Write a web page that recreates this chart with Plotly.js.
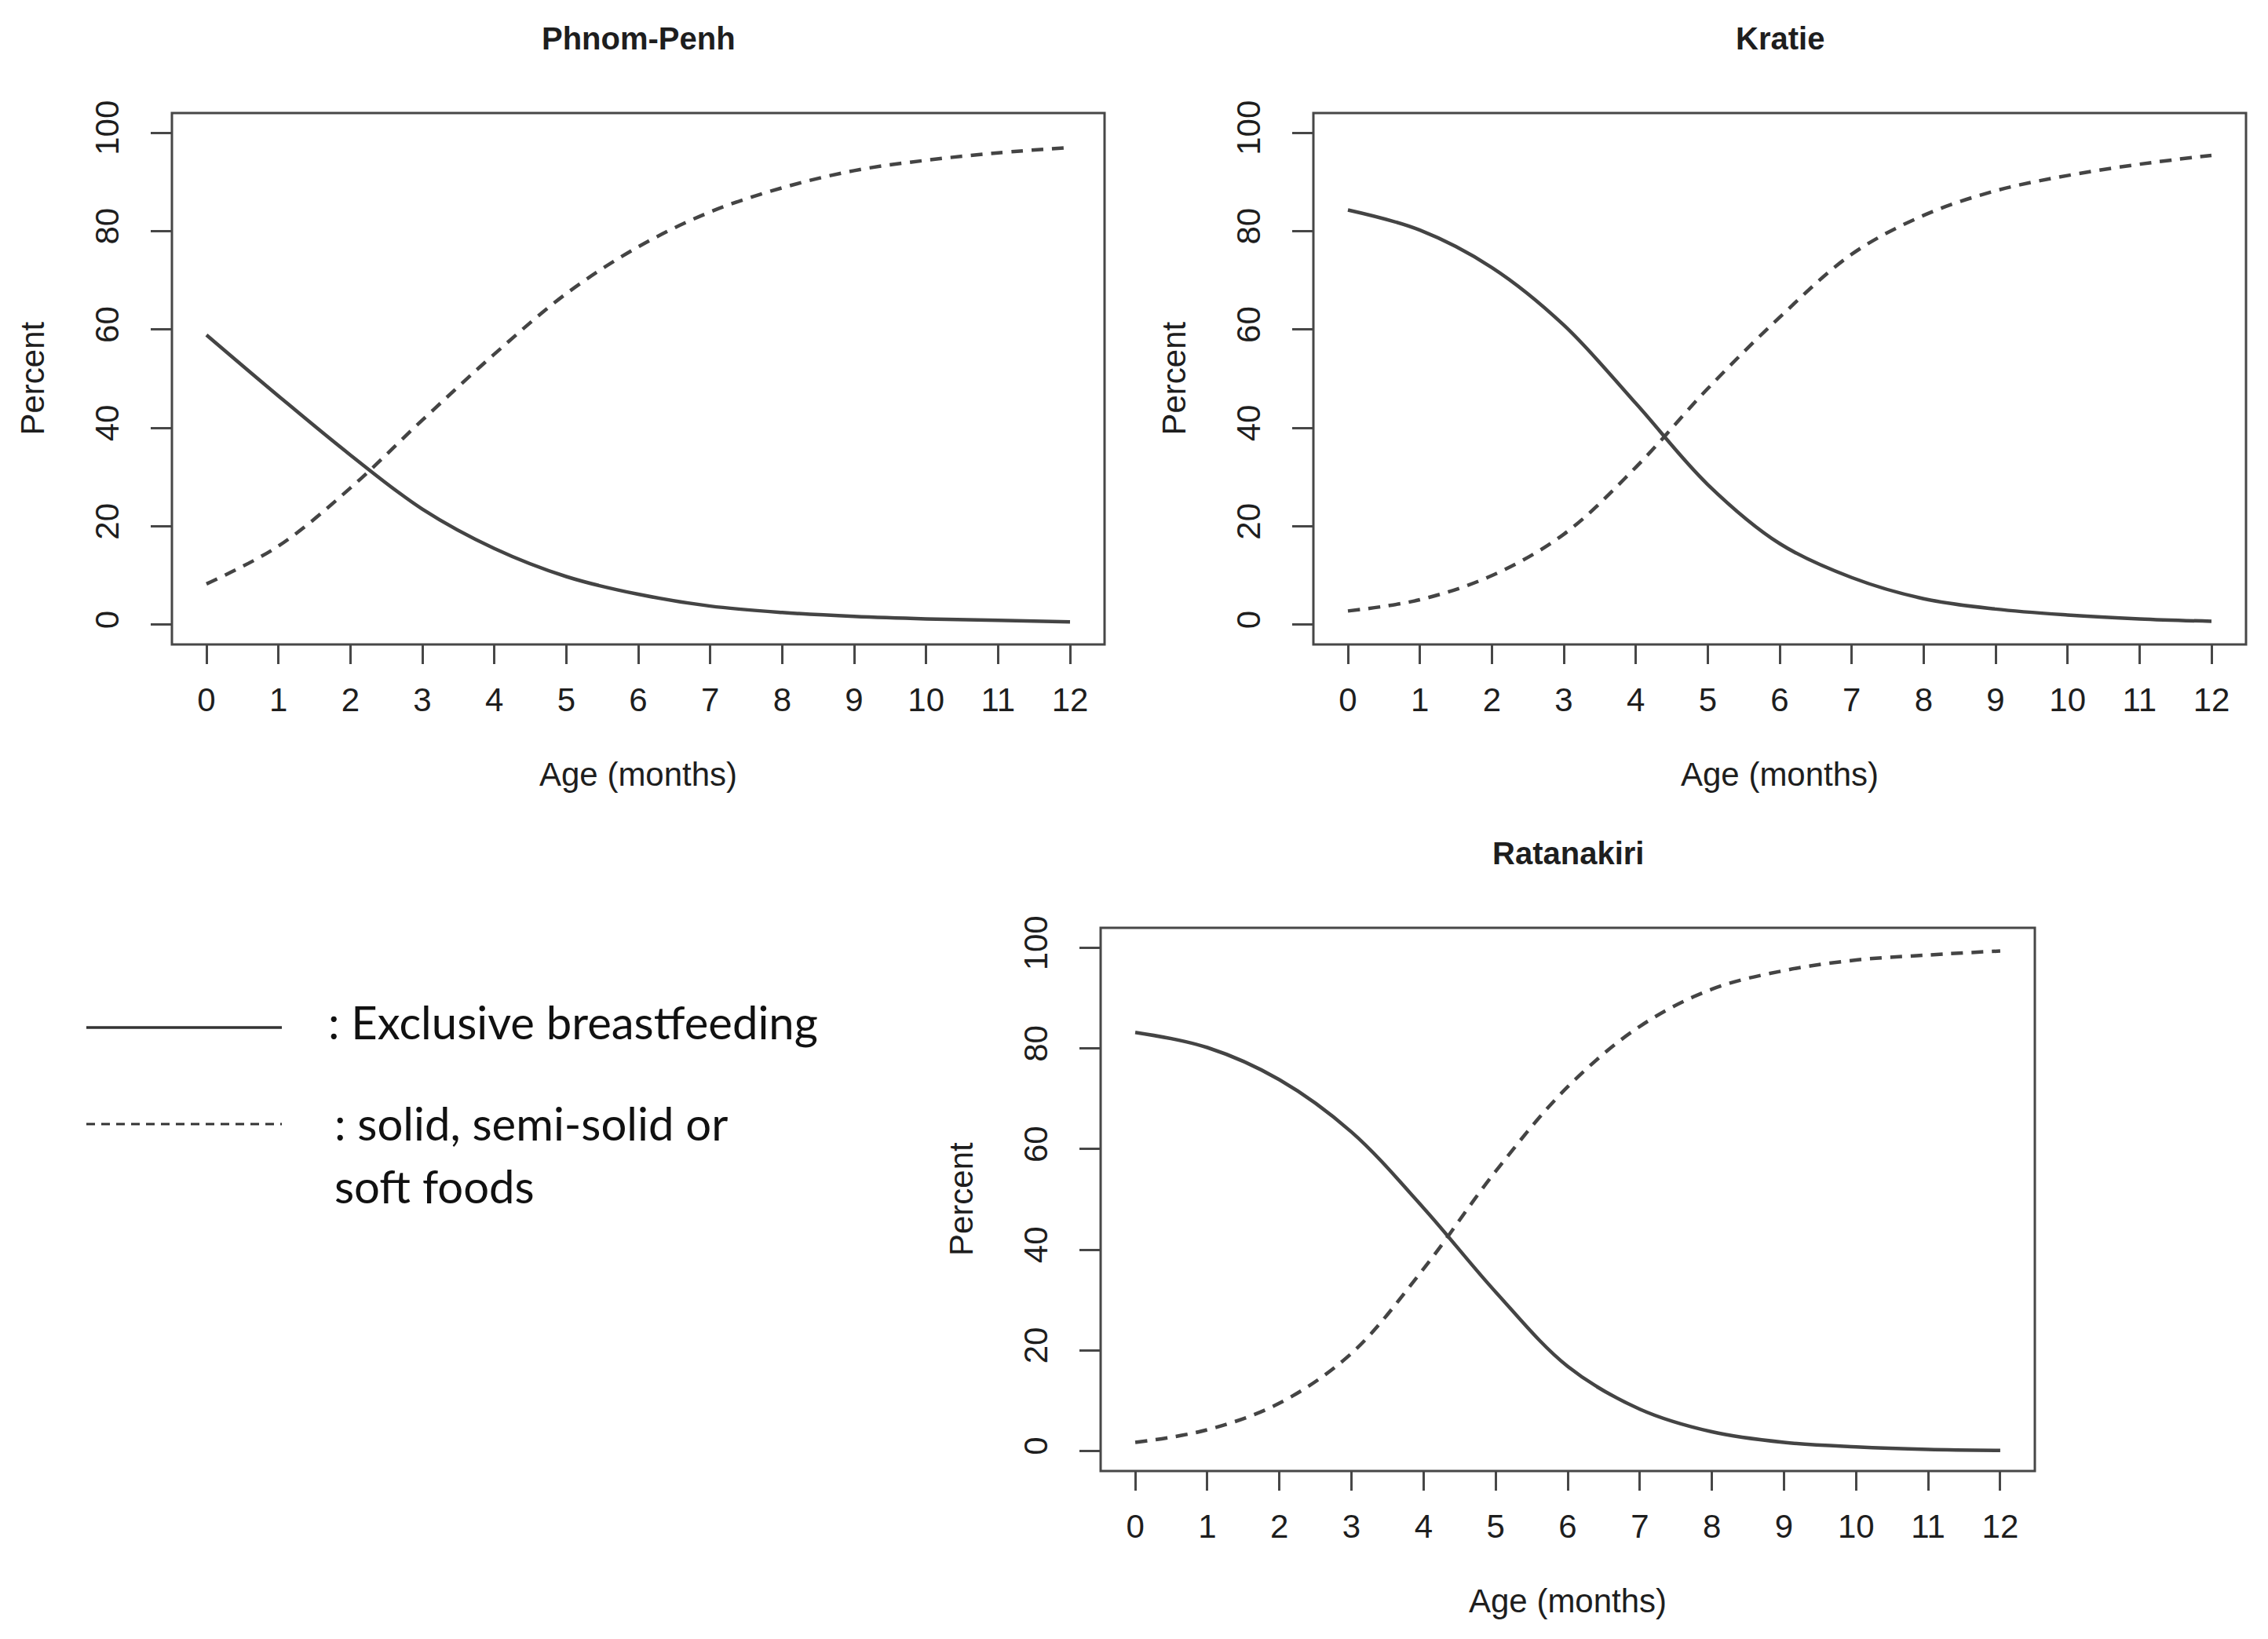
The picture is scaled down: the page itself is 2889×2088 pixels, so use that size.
<!DOCTYPE html>
<html>
<head>
<meta charset="utf-8">
<script src="https://cdn.plot.ly/plotly-3.0.1.min.js"></script>
<style>
  html, body { margin: 0; padding: 0; background: #ffffff; }
  #plot { width: 2889px; height: 2088px; }
</style>
</head>
<body>
<div id="plot"></div>
<script>
// values, one point per month
const months = [0, 1, 2, 3, 4, 5, 6, 7, 8, 9, 10, 11, 12];
const percentTicks = [0, 20, 40, 60, 80, 100];

const phnomPenhExclusive = [58.9, 46.5, 34.5, 23.5, 15.5, 9.8, 6.2, 3.8, 2.5, 1.7, 1.2, 0.9, 0.6];
const phnomPenhSolid     = [8.3, 16.0, 27.8, 41.6, 55.0, 67.3, 76.8, 83.9, 88.8, 92.3, 94.4, 95.9, 97.0];

const kratieExclusive = [84.3, 80.2, 72.6, 60.9, 45.0, 28.5, 16.5, 9.6, 5.3, 3.2, 2.0, 1.2, 0.7];
const kratieSolid     = [2.8, 5.1, 10.0, 18.4, 32.0, 48.0, 62.5, 75.3, 83.2, 88.2, 91.3, 93.6, 95.4];

const ratanakiriExclusive = [83.2, 80.2, 73.8, 63.4, 48.3, 31.6, 16.8, 8.3, 3.8, 1.7, 0.8, 0.3, 0.1];
const ratanakiriSolid     = [1.7, 4.2, 9.5, 19.4, 36.2, 55.6, 72.4, 84.4, 91.8, 95.5, 97.6, 98.6, 99.4];

const panelTitles = ["Phnom-Penh", "Kratie", "Ratanakiri"];
const legendLabels = [": Exclusive breastfeeding", ": solid, semi-solid or", "soft foods"];

const W = 2889, H = 2088;
const px = (v) => v / W;
const py = (v) => 1 - v / H;

const rFont = '"Liberation Sans", Arial, Helvetica, sans-serif';
const legFont = 'Lato, "Open Sans", sans-serif';
const ink = "#1e1e1e";
const lineCol = "#444444";
const boxCol = "#474747";

// plot boxes in pixels: left, right, top, bottom
const boxes = [
  [219, 1407, 144, 821],
  [1673, 2861, 144, 821],
  [1402, 2592, 1182, 1874],
];

const series = [
  [phnomPenhExclusive, phnomPenhSolid],
  [kratieExclusive, kratieSolid],
  [ratanakiriExclusive, ratanakiriSolid],
];

const traces = [];
series.forEach(([excl, solid], i) => {
  const sfx = i === 0 ? "" : String(i + 1);
  traces.push({
    x: months, y: excl, type: "scatter", mode: "lines",
    xaxis: "x" + sfx, yaxis: "y" + sfx,
    line: { color: lineCol, width: 4.5, shape: "spline", smoothing: 1 },
    showlegend: false, hoverinfo: "skip",
  });
  traces.push({
    x: months, y: solid, type: "scatter", mode: "lines",
    xaxis: "x" + sfx, yaxis: "y" + sfx,
    line: { color: lineCol, width: 4.5, dash: "15px,11px", shape: "spline", smoothing: 1 },
    showlegend: false, hoverinfo: "skip",
  });
});

function xAxis(box, sfx) {
  return {
    domain: [px(box[0]), px(box[1])],
    anchor: "y" + sfx,
    range: [-0.48, 12.48],
    tickmode: "array",
    tickvals: months,
    ticktext: months.map(String),
    ticks: "outside",
    ticklen: 24,
    tickwidth: 3,
    tickcolor: boxCol,
    showline: false,
    showgrid: false,
    zeroline: false,
    tickfont: { family: rFont, size: 42, color: ink },
    ticklabelstandoff: 10,
  };
}

function yAxis(box, sfx) {
  return {
    domain: [py(box[3]), py(box[2])],
    anchor: "x" + sfx,
    range: [-4, 104],
    tickmode: "array",
    tickvals: percentTicks,
    ticktext: percentTicks.map(String),
    tickangle: -90,
    ticks: "outside",
    ticklen: 26,
    tickwidth: 3,
    tickcolor: boxCol,
    showline: false,
    showgrid: false,
    zeroline: false,
    tickfont: { family: rFont, size: 42, color: ink },
    ticklabelstandoff: 24,
  };
}

const layout = {
  width: W,
  height: H,
  margin: { l: 0, r: 0, t: 0, b: 0 },
  paper_bgcolor: "#ffffff",
  plot_bgcolor: "#ffffff",
  showlegend: false,
  shapes: [],
  annotations: [],
};

boxes.forEach((box, i) => {
  const sfx = i === 0 ? "" : String(i + 1);
  layout["xaxis" + sfx] = xAxis(box, sfx);
  layout["yaxis" + sfx] = yAxis(box, sfx);

  layout.shapes.push({
    type: "rect", xref: "x" + sfx + " domain", yref: "y" + sfx + " domain",
    x0: 0, x1: 1, y0: 0, y1: 1,
    line: { color: boxCol, width: 3 },
  });

  const cx = (box[0] + box[1]) / 2;
  const cy = (box[2] + box[3]) / 2;
  layout.annotations.push({
    text: "<b>" + panelTitles[i] + "</b>",
    xref: "paper", yref: "paper", x: px(cx), y: py(box[2] - 95),
    xanchor: "center", yanchor: "middle", showarrow: false,
    font: { family: rFont, size: 40, color: ink },
  });
  layout.annotations.push({
    text: "Age (months)",
    xref: "paper", yref: "paper", x: px(cx), y: py(box[3] + 165),
    xanchor: "center", yanchor: "middle", showarrow: false,
    font: { family: rFont, size: 42, color: ink },
  });
  layout.annotations.push({
    text: "Percent",
    xref: "paper", yref: "paper", x: px(box[0] - 178), y: py(cy),
    xanchor: "center", yanchor: "middle", showarrow: false, textangle: -90,
    font: { family: rFont, size: 42, color: ink },
  });
});

// key in the lower-left corner
layout.shapes.push({
  type: "line", xref: "paper", yref: "paper",
  x0: px(110), x1: px(359), y0: py(1309), y1: py(1309),
  line: { color: "#333333", width: 3.5 },
});
layout.shapes.push({
  type: "line", xref: "paper", yref: "paper",
  x0: px(110), x1: px(359), y0: py(1432), y1: py(1432),
  line: { color: "#333333", width: 3, dash: "11px,8px" },
});
[[416, 1301], [424, 1430], [424, 1510]].forEach(([x, y], k) => {
  layout.annotations.push({
    text: legendLabels[k],
    xref: "paper", yref: "paper", x: px(x), y: py(y),
    xanchor: "left", yanchor: "middle", showarrow: false,
    font: { family: legFont, size: 58, color: "#111111" },
  });
});

Plotly.newPlot("plot", traces, layout, { displayModeBar: false, staticPlot: true });
</script>
</body>
</html>
